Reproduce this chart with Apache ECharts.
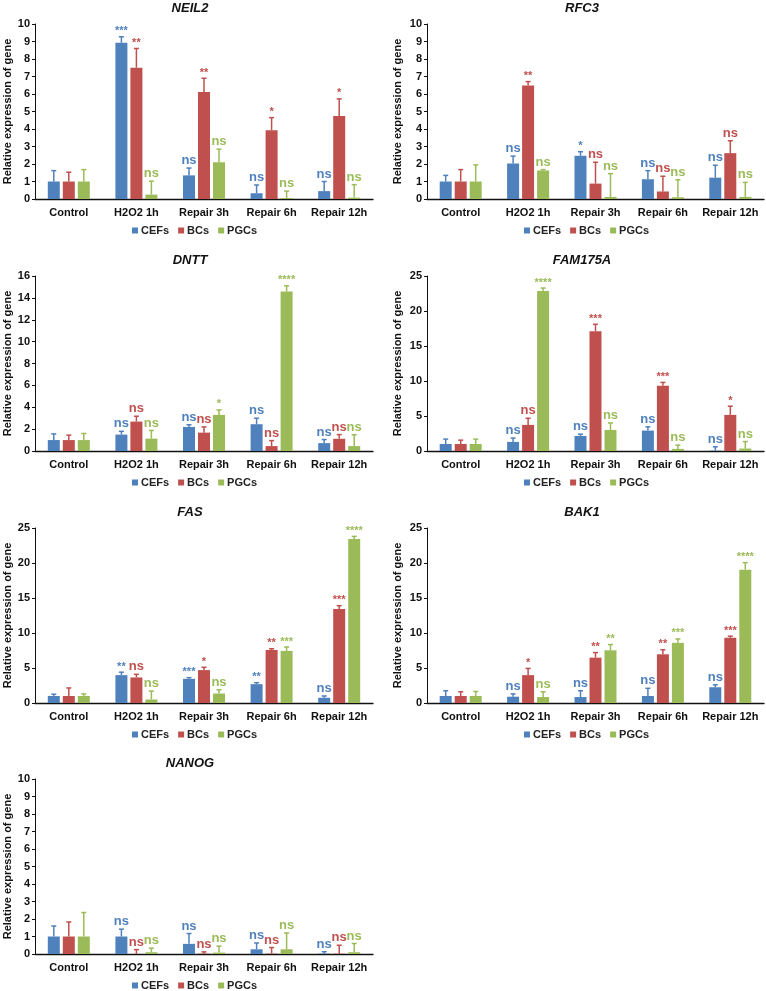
<!DOCTYPE html>
<html>
<head>
<meta charset="utf-8">
<script src="https://cdn.jsdelivr.net/npm/echarts@6/dist/echarts.min.js"></script>
<style>
  body { margin: 0; background: #fff; }
</style>
</head>
<body>
<div id="main" style="width: 766px; height: 991px;"></div>
<script type="text/javascript">
// categories, groups and colours
var categories = ['Control', 'H2O2 1h', 'Repair 3h', 'Repair 6h', 'Repair 12h'];
var groups = ['CEFs', 'BCs', 'PGCs'];
var colors = ['#4F81BD', '#C0504D', '#9BBB59'];

// gene panels (order of drawing) and their y axis ranges
var genes = ['NEIL2', 'RFC3', 'DNTT', 'FAM175A', 'FAS', 'BAK1', 'NANOG'];
var yMax = [10, 10, 16, 25, 25, 25, 10];
var yStep = [1, 1, 2, 5, 5, 5, 1];

// mean values, rows = CEFs, BCs, PGCs
var neil2Mean = [[1.0, 8.93, 1.35, 0.33, 0.45], [1.0, 7.5, 6.12, 3.93, 4.75], [1.0, 0.25, 2.1, 0.05, 0.08]];
var neil2Sd = [[0.62, 0.34, 0.42, 0.47, 0.55], [0.53, 1.1, 0.78, 0.72, 0.97], [0.68, 0.77, 0.75, 0.4, 0.74]];
var neil2Sig = [['', '***', 'ns', 'ns', 'ns'], ['', '**', '**', '*', '*'], ['', 'ns', 'ns', 'ns', 'ns']];

var rfc3Mean = [[1.0, 2.03, 2.47, 1.13, 1.22], [1.0, 6.48, 0.88, 0.43, 2.62], [1.0, 1.63, 0.12, 0.1, 0.12]];
var rfc3Sd = [[0.35, 0.42, 0.23, 0.49, 0.71], [0.68, 0.23, 1.22, 0.87, 0.71], [0.95, 0.05, 1.33, 1.0, 0.83]];
var rfc3Sig = [['', 'ns', '*', 'ns', 'ns'], ['', '**', 'ns', 'ns', 'ns'], ['', 'ns', 'ns', 'ns', 'ns']];

var dnttMean = [[1.0, 1.5, 2.2, 2.45, 0.72], [1.0, 2.69, 1.68, 0.45, 1.12], [1.0, 1.13, 3.3, 14.59, 0.45]];
var dnttSd = [[0.56, 0.3, 0.2, 0.55, 0.33], [0.45, 0.49, 0.52, 0.5, 0.38], [0.6, 0.75, 0.46, 0.51, 1.03]];
var dnttSig = [['', 'ns', 'ns', 'ns', 'ns'], ['', 'ns', 'ns', 'ns', 'ns'], ['', 'ns', '*', '****', 'ns']];

var fam175aMean = [[1.0, 1.3, 2.15, 2.92, 0.05], [1.0, 3.73, 17.11, 9.32, 5.16], [1.0, 22.85, 3.01, 0.3, 0.35]];
var fam175aSd = [[0.7, 0.55, 0.25, 0.53, 0.55], [0.55, 0.95, 0.99, 0.48, 1.24], [0.7, 0.43, 0.99, 0.55, 1.0]];
var fam175aSig = [['', 'ns', 'ns', 'ns', 'ns'], ['', 'ns', '***', '***', '*'], ['', '****', 'ns', 'ns', 'ns']];

var fasMean = [[1.0, 3.98, 3.45, 2.69, 0.75], [1.0, 3.65, 4.7, 7.58, 13.44], [1.0, 0.5, 1.35, 7.44, 23.42]];
var fasSd = [[0.25, 0.42, 0.17, 0.21, 0.25], [1.15, 0.45, 0.4, 0.17, 0.46], [0.3, 1.2, 0.55, 0.56, 0.38]];
var fasSig = [['', '**', '***', '**', 'ns'], ['', 'ns', '*', '**', '***'], ['', 'ns', 'ns', '***', '****']];

var bak1Mean = [[1.0, 0.9, 0.85, 1.0, 2.25], [1.0, 3.98, 6.48, 6.96, 9.31], [1.0, 0.85, 7.53, 8.59, 19.05]];
var bak1Sd = [[0.75, 0.4, 0.9, 1.1, 0.35], [0.6, 0.96, 0.72, 0.64, 0.24], [0.65, 0.75, 0.82, 0.56, 1.0]];
var bak1Sig = [['', 'ns', 'ns', 'ns', 'ns'], ['', '*', '**', '**', '***'], ['', 'ns', '**', '***', '****']];

var nanogMean = [[1.0, 1.0, 0.58, 0.27, 0.02], [1.0, 0.0, 0.02, 0.02, 0.02], [1.0, 0.1, 0.08, 0.27, 0.1]];
var nanogSd = [[0.6, 0.42, 0.59, 0.36, 0.11], [0.83, 0.25, 0.1, 0.35, 0.48], [1.37, 0.23, 0.37, 0.93, 0.5]];
var nanogSig = [['', 'ns', 'ns', 'ns', 'ns'], ['', 'ns', 'ns', 'ns', 'ns'], ['', 'ns', 'ns', 'ns', 'ns']];

var means = [neil2Mean, rfc3Mean, dnttMean, fam175aMean, fasMean, bak1Mean, nanogMean];
var sds = [neil2Sd, rfc3Sd, dnttSd, fam175aSd, fasSd, bak1Sd, nanogSd];
var sigs = [neil2Sig, rfc3Sig, dnttSig, fam175aSig, fasSig, bak1Sig, nanogSig];

// layout of the 2-column panel grid
var colLeft = [35, 427];
var colWidth = [338, 337];
var titleX = [185, 577];
var legendX = [127, 519];
var rowTop = [24, 276, 528, 779];
var plotH = 175;
var barW = 12, barStep = 15;
var font = 'Liberation Sans, Arial, sans-serif';

var myChart = echarts.init(document.getElementById('main'));

function errorBar(p, g) {
    var col = colors[g];
    var marks = sigs[p][g];
    return function (params, api) {
        var c = api.value(0);
        var base = api.coord([c, api.value(1)]);
        var top = api.coord([c, api.value(2)]);
        var x = base[0] + (g - 1) * barStep;
        var txt = marks[params.dataIndex];
        var star = txt.indexOf('*') >= 0;
        return {
            type: 'group',
            children: [
                { type: 'line', shape: { x1: x, y1: base[1], x2: x, y2: top[1] }, style: { stroke: col, lineWidth: 1.5 } },
                { type: 'line', shape: { x1: x - 2.5, y1: top[1], x2: x + 2.5, y2: top[1] }, style: { stroke: col, lineWidth: 1.5 } },
                { type: 'text', style: {
                    text: txt, x: x, y: top[1] - (star ? 0 : 1),
                    align: 'center', verticalAlign: 'bottom',
                    fill: col, font: (star ? 'bold 11px ' : 'bold 13px ') + font
                } }
            ]
        };
    };
}

var grid = [], xAxis = [], yAxis = [], series = [], title = [], legend = [];
for (var p = 0; p < genes.length; p++) {
    var col = p % 2, row = Math.floor(p / 2);
    grid.push({ left: colLeft[col], width: colWidth[col], top: rowTop[row], height: plotH });
    title.push({
        text: genes[p], left: titleX[col], top: rowTop[row] - 27, textAlign: 'center',
        textStyle: { fontFamily: font, fontSize: 13, fontWeight: 'bold', fontStyle: 'italic', color: '#111' }
    });
    legend.push({
        data: groups, left: legendX[col], top: rowTop[row] + plotH + 21,
        icon: 'rect', itemWidth: 6, itemHeight: 6, itemGap: 9,
        textStyle: { fontFamily: font, fontSize: 11, fontWeight: 'bold', color: '#222', padding: [0, 0, 0, -2] }
    });
    xAxis.push({
        type: 'category', gridIndex: p, data: categories,
        axisLine: { lineStyle: { color: '#111', width: 1.3 } },
        axisTick: { show: false },
        axisLabel: { interval: 0, margin: 8, fontFamily: font, fontSize: 11, fontWeight: 'bold', color: '#111' }
    });
    yAxis.push({
        type: 'value', gridIndex: p, min: 0, max: yMax[p], interval: yStep[p],
        name: 'Relative expression of gene', nameLocation: 'middle', nameGap: col ? 24 : 22,
        nameTextStyle: { fontFamily: font, fontSize: 11, fontWeight: 'bold', color: '#111' },
        axisLine: { show: true, lineStyle: { color: '#111', width: 1 } },
        axisTick: { show: true, length: 3, lineStyle: { color: '#111' } },
        axisLabel: { margin: 5, fontFamily: font, fontSize: 11, fontWeight: 'bold', color: '#111' },
        splitLine: { show: false }
    });
    for (var g = 0; g < groups.length; g++) {
        series.push({
            name: groups[g], type: 'bar', xAxisIndex: p, yAxisIndex: p,
            barWidth: barW, barGap: '25%',
            itemStyle: { color: colors[g] },
            data: means[p][g]
        });
        var eb = [];
        for (var c = 0; c < categories.length; c++) {
            eb.push([c, means[p][g][c], means[p][g][c] + sds[p][g][c]]);
        }
        series.push({
            name: groups[g], type: 'custom', xAxisIndex: p, yAxisIndex: p,
            renderItem: errorBar(p, g), data: eb, z: 5, silent: true
        });
    }
}

var option = {
    animation: false,
    title: title,
    legend: legend,
    grid: grid,
    xAxis: xAxis,
    yAxis: yAxis,
    series: series
};
myChart.setOption(option);
</script>
</body>
</html>
